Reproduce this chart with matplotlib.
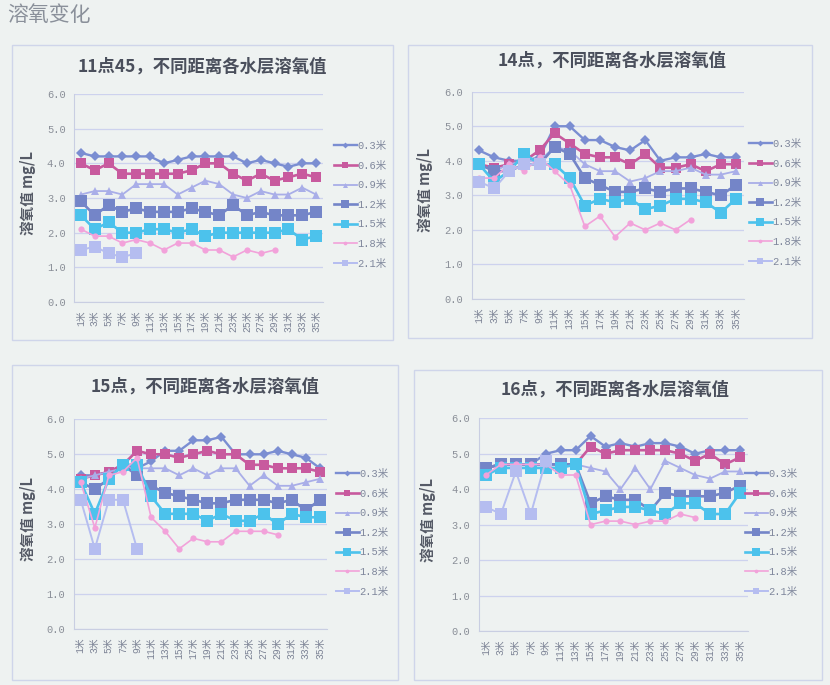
import matplotlib
matplotlib.use('Agg')
import matplotlib.pyplot as plt
from matplotlib.patches import Rectangle

# ---------------- data ----------------
x_labels = ["1米", "3米", "5米", "7米", "9米", "11米", "13米", "15米", "17米",
            "19米", "21米", "23米", "25米", "27米", "29米", "31米", "33米", "35米"]
series_names = ["0.3米", "0.6米", "0.9米", "1.2米", "1.5米", "1.8米", "2.1米"]
y_ticks = [0.0, 1.0, 2.0, 3.0, 4.0, 5.0, 6.0]

titles = ["11点45，不同距离各水层溶氧值", "14点，不同距离各水层溶氧值",
          "15点，不同距离各水层溶氧值", "16点，不同距离各水层溶氧值"]

# 11:45
p1_03 = [4.3, 4.2, 4.2, 4.2, 4.2, 4.2, 4.0, 4.1, 4.2, 4.2, 4.2, 4.2, 4.0, 4.1, 4.0, 3.9, 4.0, 4.0]
p1_06 = [4.0, 3.8, 4.0, 3.7, 3.7, 3.7, 3.7, 3.7, 3.8, 4.0, 4.0, 3.7, 3.5, 3.7, 3.5, 3.6, 3.7, 3.6]
p1_09 = [3.1, 3.2, 3.2, 3.1, 3.4, 3.4, 3.4, 3.1, 3.3, 3.5, 3.4, 3.1, 3.0, 3.2, 3.1, 3.1, 3.3, 3.1]
p1_12 = [2.9, 2.5, 2.8, 2.6, 2.7, 2.6, 2.6, 2.6, 2.7, 2.6, 2.5, 2.8, 2.5, 2.6, 2.5, 2.5, 2.5, 2.6]
p1_15 = [2.5, 2.1, 2.3, 2.0, 2.0, 2.1, 2.1, 2.0, 2.1, 1.9, 2.0, 2.0, 2.0, 2.0, 2.0, 2.1, 1.8, 1.9]
p1_18 = [2.1, 1.9, 1.9, 1.7, 1.8, 1.7, 1.5, 1.7, 1.7, 1.5, 1.5, 1.3, 1.5, 1.4, 1.5]
p1_21 = [1.5, 1.6, 1.4, 1.3, 1.4]

# 14:00
p2_03 = [4.3, 4.1, 4.0, 4.0, 4.1, 5.0, 5.0, 4.6, 4.6, 4.4, 4.3, 4.6, 4.0, 4.1, 4.1, 4.2, 4.1, 4.1]
p2_06 = [3.9, 3.8, 3.9, 4.0, 4.3, 4.8, 4.5, 4.2, 4.1, 4.1, 3.9, 4.2, 3.8, 3.8, 3.9, 3.7, 3.9, 3.9]
p2_09 = [3.9, 3.7, 3.9, 4.0, 4.0, 4.4, 4.3, 3.9, 3.7, 3.7, 3.4, 3.5, 3.7, 3.7, 3.8, 3.6, 3.6, 3.7]
p2_12 = [3.9, 3.7, 3.7, 3.9, 3.9, 4.4, 4.2, 3.5, 3.3, 3.1, 3.1, 3.2, 3.1, 3.2, 3.2, 3.1, 3.0, 3.3]
p2_15 = [3.9, 3.4, 3.7, 4.2, 3.9, 3.9, 3.5, 2.7, 2.9, 2.8, 2.9, 2.6, 2.7, 2.9, 2.9, 2.8, 2.5, 2.9]
p2_18 = [3.5, 3.5, 3.9, 3.7, 4.1, 3.7, 3.3, 2.1, 2.4, 1.8, 2.2, 2.0, 2.2, 2.0, 2.3]
p2_21 = [3.4, 3.2, 3.7, 3.9, 3.9]

# 15:00
p3_03 = [4.4, 4.4, 4.5, 4.7, 4.6, 4.8, 5.1, 5.1, 5.4, 5.4, 5.5, 5.0, 5.0, 5.0, 5.1, 5.0, 4.9, 4.6]
p3_06 = [4.3, 4.4, 4.5, 4.7, 5.1, 5.0, 5.0, 4.9, 5.0, 5.1, 5.0, 5.0, 4.7, 4.7, 4.6, 4.6, 4.6, 4.5]
p3_09 = [4.3, 4.4, 4.5, 4.6, 4.6, 4.6, 4.6, 4.4, 4.6, 4.4, 4.6, 4.6, 4.1, 4.4, 4.1, 4.1, 4.2, 4.3]
p3_12 = [4.2, 4.0, 4.3, 4.7, 4.4, 4.1, 3.9, 3.8, 3.7, 3.6, 3.6, 3.7, 3.7, 3.7, 3.6, 3.7, 3.4, 3.7]
p3_15 = [4.2, 3.3, 4.3, 4.7, 4.7, 3.8, 3.3, 3.3, 3.3, 3.1, 3.3, 3.1, 3.1, 3.3, 3.0, 3.3, 3.2, 3.2]
p3_18 = [4.2, 2.9, 4.4, 4.5, 4.9, 3.2, 2.8, 2.3, 2.6, 2.5, 2.5, 2.8, 2.8, 2.8, 2.7]
p3_21 = [3.7, 2.3, 3.7, 3.7, 2.3]

# 16:00
p4_03 = [4.6, 4.7, 4.7, 4.7, 5.0, 5.1, 5.1, 5.5, 5.2, 5.3, 5.2, 5.3, 5.3, 5.2, 5.0, 5.1, 5.1, 5.1]
p4_06 = [4.6, 4.7, 4.7, 4.7, 4.7, 4.7, 4.7, 5.2, 5.0, 5.1, 5.1, 5.1, 5.1, 5.0, 4.8, 5.0, 4.7, 4.9]
p4_09 = [4.6, 4.7, 4.7, 4.7, 4.7, 4.7, 4.7, 4.6, 4.5, 4.0, 4.6, 4.0, 4.8, 4.6, 4.4, 4.3, 4.5, 4.5]
p4_12 = [4.6, 4.7, 4.7, 4.7, 4.7, 4.7, 4.7, 3.6, 3.8, 3.7, 3.7, 3.4, 3.9, 3.8, 3.8, 3.8, 3.9, 4.1]
p4_15 = [4.4, 4.6, 4.6, 4.6, 4.6, 4.6, 4.7, 3.3, 3.4, 3.5, 3.5, 3.4, 3.3, 3.6, 3.6, 3.3, 3.3, 3.9]
p4_18 = [4.4, 4.7, 4.7, 4.7, 4.7, 4.4, 4.4, 3.0, 3.1, 3.1, 3.0, 3.1, 3.1, 3.3, 3.2]
p4_21 = [3.5, 3.3, 4.5, 3.3, 4.8]

panel_data = [
    [p1_03, p1_06, p1_09, p1_12, p1_15, p1_18, p1_21],
    [p2_03, p2_06, p2_09, p2_12, p2_15, p2_18, p2_21],
    [p3_03, p3_06, p3_09, p3_12, p3_15, p3_18, p3_21],
    [p4_03, p4_06, p4_09, p4_12, p4_15, p4_18, p4_21],
]

# ---------------- styles ----------------
colors = ['#7b8ed2', '#c85a9e', '#a9aee8', '#7485c8', '#4cc2ec', '#f2a2da', '#b5bdf0']
markers = ['D', 's', '^', 's', 's', 'o', 's']
msizes = [5, 7, 6, 8.5, 8.5, 4.5, 8]
lwidths = [1.7, 1.9, 1.3, 1.9, 1.9, 1.2, 1.4]

W, H = 830, 685
CJK = ['Noto Sans CJK SC', 'DejaVu Sans']
MONO = ['Liberation Mono', 'Noto Sans CJK SC']

fig = plt.figure(figsize=(W / 100, H / 100), dpi=100, facecolor='#eef2f1')


def frect(l, t, r, b):
    return [l / W, 1 - b / H, (r - l) / W, (b - t) / H]


layout = [
    dict(box=(12, 45, 393, 340), ax=(74, 94, 323, 302), title=(202, 67), leg=(334, 141), ylab=28),
    dict(box=(408, 45, 812, 338), ax=(471.5, 91.7, 743.5, 299), title=(612, 61), leg=(749, 139), ylab=425),
    dict(box=(12, 365, 398, 680), ax=(73.7, 419.3, 327, 629.3), title=(205, 387), leg=(336, 469), ylab=28),
    dict(box=(414, 370, 822, 680), ax=(478.5, 418.3, 747.5, 631), title=(615, 390), leg=(745, 469), ylab=428),
]

fig.text(7 / W, 1 - 15 / H, "溶氧变化", family=CJK, fontsize=15, color='#8a909a',
         ha='left', va='center')

for k, (lay, data) in enumerate(zip(layout, panel_data)):
    bl, bt, br, bb = lay['box']
    fig.patches.append(Rectangle((bl / W, 1 - bb / H), (br - bl) / W, (bb - bt) / H,
                                 transform=fig.transFigure, fill=False,
                                 edgecolor='#cfd5ea', lw=1.0))
    ax = fig.add_axes(frect(*lay['ax']))
    ax.set_facecolor('none')
    handles = []
    for i, vals in enumerate(data):
        xs = list(range(len(vals)))
        h, = ax.plot(xs, vals, color=colors[i], marker=markers[i], ms=msizes[i],
                     lw=lwidths[i], markeredgewidth=0, label=series_names[i])
        handles.append(h)
    ax.set_xlim(-0.5, len(x_labels) - 0.5)
    ax.set_ylim(0, 6)
    ax.set_yticks(y_ticks)
    ax.set_yticklabels([f"{v:.1f}" for v in y_ticks], family=MONO, fontsize=7.5, color='#8a8f98')
    ax.set_xticks(range(len(x_labels)))
    ax.set_xticklabels(x_labels, rotation=90, family=MONO, fontsize=7, color='#7d8496')
    ax.tick_params(length=0, pad=6)
    ax.grid(axis='y', color='#cdd2ee', lw=0.9)
    ax.set_axisbelow(True)
    for s in ['top', 'right']:
        ax.spines[s].set_visible(False)
    ax.spines['left'].set_color('#c9cee2')
    ax.spines['bottom'].set_color('#c9cee2')
    # title
    tx, ty = lay['title']
    fig.text(tx / W, 1 - ty / H, titles[k], family=CJK, fontsize=12.5, fontweight='bold',
             color='#4a4f5c', ha='center', va='center')
    # y label
    al, at, ar, ab = lay['ax']
    fig.text(lay['ylab'] / W, 1 - ((at + ab) / 2 - 5) / H, "溶氧值 mg/L", family=CJK,
             fontsize=10.5, fontweight='bold', color='#555a66', rotation=90,
             ha='center', va='center')
    lx, ly = lay['leg']
    leg = ax.legend(handles=handles, loc='upper left', bbox_to_anchor=(lx / W, 1 - ly / H),
                    bbox_transform=fig.transFigure, frameon=False,
                    prop={'family': MONO, 'size': 7.5}, labelspacing=0.92,
                    handlelength=2.2, handletextpad=0.05, borderpad=0, borderaxespad=0,
                    markerscale=0.6)
    for t in leg.get_texts():
        t.set_color('#7f879c')

fig.savefig('out.png', dpi=100, facecolor=fig.get_facecolor())
